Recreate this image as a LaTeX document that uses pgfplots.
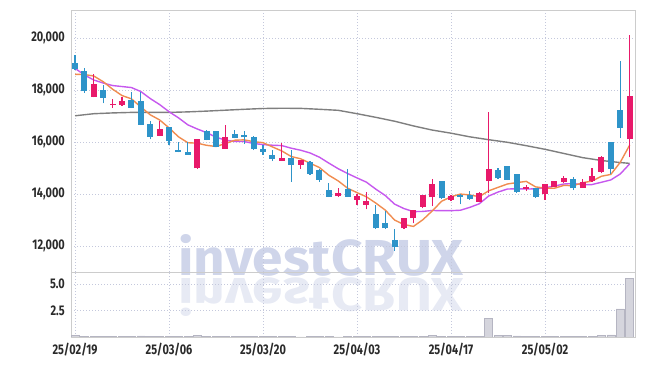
\documentclass[border=0pt]{standalone}
\usepackage{fontspec}
\setmainfont{Fira Sans}
\newfontfamily\tickfont{Fira Sans}[FakeStretch=0.78]
\newfontfamily\wmfont{Fira Sans}
\usepackage{graphicx}
\usepackage{pgfplots}
\pgfplotsset{compat=1.18}
\usepackage{pgfplotstable}

\definecolor{upc}{HTML}{E8196A}
\definecolor{dnc}{HTML}{2E94C9}
\definecolor{ma5}{HTML}{F08C50}
\definecolor{ma10}{HTML}{C658EE}
\definecolor{ma60}{HTML}{7F7F7F}
\definecolor{gridc}{HTML}{C4C8DC}
\definecolor{framec}{HTML}{CCCCCC}
\definecolor{volf}{HTML}{D5D5DD}
\definecolor{vold}{HTML}{B5B5C2}
\definecolor{wmc}{HTML}{CFD5EA}
\definecolor{wmr}{HTML}{E7EAF4}
\definecolor{tickc}{HTML}{2A2A2A}
\newcommand\ticklab{\tickfont\bfseries\fontsize{14pt}{14pt}\selectfont}

\pgfplotstableread{
i o h l c
2 17740 18600 17720 18230
4 17450 17640 17320 17480
5 17430 17740 17400 17580
9 16240 16810 16230 16490
13 14990 16120 14980 16110
16 15750 16650 15750 16180
22 15280 15950 15270 15380
24 15120 15310 14980 15300
28 13920 14250 13900 14020
30 13780 14000 13570 13930
31 13580 14080 13410 13730
35 12680 13070 12660 13060
36 13060 13390 12870 13380
37 13510 13970 13450 13960
38 13870 14560 13530 14380
40 13770 13980 13730 13930
43 13700 14060 13690 14050
44 14500 17170 14050 14950
48 14200 14340 14120 14280
50 13990 14400 13770 14380
51 14280 14500 14260 14500
52 14460 14700 14440 14610
54 14250 14560 14240 14470
55 14500 15010 14480 14690
56 14860 15460 14790 15430
59 16100 20120 15410 17770
}\uptab

\pgfplotstableread{
i o h l c
0 19050 19350 18770 18800
1 18730 18840 17900 17950
3 18000 18200 17490 17700
6 17610 17930 17300 17320
7 17580 17930 16650 16660
8 16690 16810 16100 16200
10 16560 16570 15880 16050
11 15690 15990 15600 15610
12 15610 16010 15510 15520
14 16430 16480 16060 16080
15 16430 16440 15800 15820
17 16310 16460 16140 16160
18 16270 16420 15920 16180
19 16190 16230 15690 15730
20 15750 15880 15520 15630
21 15500 15690 15270 15360
23 15380 15690 14470 15110
25 15240 15280 14750 14770
26 14920 14950 14470 14540
27 14150 14410 13880 13890
29 14210 14980 13880 13890
32 13230 13570 12670 12680
33 12890 13350 12660 12680
34 12220 12640 11800 11970
39 14510 14520 13820 13830
41 13980 14000 13600 13890
42 13980 14120 13780 13790
45 14920 15010 14580 14600
46 15070 15080 14530 14540
47 14770 14780 14050 14060
49 14220 14250 13850 13890
53 14570 14660 14150 14220
57 15990 16000 14760 14960
58 17230 19120 16140 16550
}\dntab

\pgfplotstableread{
i m5 m10
0 18604 18835
1 18597 18580
2 18539 18385
3 18320 18270
4 18032 18173
5 17788 18135
6 17662 18096
7 17348 17942
8 17048 17673
9 16850 17441
10 16544 17166
11 16202 16932
12 15974 16661
13 15956 16502
14 15874 16362
15 15828 16186
16 15942 16072
17 16070 16022
18 16084 16020
19 16014 15944
20 15976 15902
21 15812 15877
22 15656 15863
23 15442 15763
24 15356 15685
25 15184 15580
26 15020 15416
27 14722 15189
28 14504 14973
29 14222 14789
30 14054 14619
31 13892 14456
32 13650 14186
33 13382 13943
34 12998 13610
35 12824 13439
36 12754 13323
37 13010 13330
38 13350 13366
39 13722 13360
40 13896 13360
41 13998 13376
42 13964 13487
43 13898 13624
44 14122 13922
45 14256 14076
46 14386 14192
47 14440 14202
48 14486 14192
49 14274 14198
50 14230 14243
51 14222 14304
52 14332 14386
53 14320 14403
54 14436 14355
55 14498 14364
56 14684 14453
57 14754 14543
58 15220 14770
59 15880 15158
}\matab

\pgfplotstableread{
i m
0 17010
2 17090
4 17120
6 17140
8 17140
10 17140
12 17160
14 17190
16 17225
18 17260
20 17290
22 17300
24 17295
26 17260
28 17220
30 17090
32 16950
34 16800
36 16620
38 16460
40 16340
42 16200
44 16090
46 15990
48 15860
50 15720
52 15560
54 15400
56 15290
58 15210
59 15180
}\longtab

\pgfplotstableread{
i v
0 0.15
1 0.08
2 0.06
3 0.05
4 0.03
5 0.03
6 0.06
7 0.10
8 0.07
9 0.05
10 0.08
11 0.03
12 0.03
13 0.12
14 0.05
15 0.05
16 0.08
17 0.03
18 0.03
19 0.04
20 0.03
21 0.03
22 0.03
23 0.04
24 0.02
25 0.03
26 0.03
27 0.05
28 0.02
29 0.04
30 0.03
31 0.03
32 0.06
33 0.04
34 0.08
35 0.05
36 0.05
37 0.08
38 0.15
39 0.06
40 0.03
41 0.03
42 0.03
43 0.04
44 1.78
45 0.15
46 0.12
47 0.10
48 0.03
49 0.04
50 0.05
51 0.03
52 0.03
53 0.03
54 0.03
55 0.05
56 0.15
57 0.20
58 2.66
59 5.57
}\voltab

\pgfplotsset{
  common/.style={
    scale only axis,
    xmin=-0.43, xmax=59.57,
    xtick={0,10,20,30,40,50},
    grid=major,
    major grid style={draw=gridc, line width=0.6pt, dash pattern=on 0.8pt off 2.2pt},
    axis line style={draw=framec, line width=0.8pt},
    tick style={draw=none},
    ticklabel style={font=\ticklab, text=tickc},
    yticklabel style={inner sep=0pt, xshift=-6pt},
    xticklabel style={inner sep=0pt, yshift=-6pt},
    scaled y ticks=false,
    scaled x ticks=false,
  },
  candle/.style n args={2}{draw=none, mark=none, forget plot,
    error bars/.cd, y dir=plus, y explicit, error mark=none,
    error bar style={draw=#1, line width=#2, solid}},
}

\begin{document}
\begin{tikzpicture}
\useasboundingbox (0,0) rectangle (645pt,366pt);
\node[anchor=south west, inner sep=0pt, text=wmc] at (178pt,89pt)
  {\resizebox{285pt}{41pt}{\wmfont\bfseries investCRUX}};
\node[anchor=north west, inner sep=0pt, text=wmr] at (178pt,88pt)
  {\scalebox{1}[-1]{\resizebox{285pt}{38pt}{\wmfont\bfseries investCRUX}}};

\begin{axis}[common,
  at={(71pt,94pt)}, anchor=south west,
  width=564pt, height=262pt,
  ymin=11000, ymax=21080,
  xticklabels={},
  ytick={12000,14000,16000,18000,20000},
  yticklabels={{12,000},{14,000},{16,000},{18,000},{20,000}},
]
\addplot[ma60, line width=1.4pt] table[x=i,y=m]{\longtab};
\addplot[ma10, line width=1.4pt] table[x=i,y=m10]{\matab};
\addplot[ma5, line width=1.4pt] table[x=i,y=m5]{\matab};
% wicks
\addplot[candle={upc}{1.1pt}]
  table[x=i, y=l, y error expr=\thisrow{h}-\thisrow{l}]{\uptab};
\addplot[candle={dnc}{1.1pt}]
  table[x=i, y=l, y error expr=\thisrow{h}-\thisrow{l}]{\dntab};
% bodies
\addplot[candle={upc}{6pt}]
  table[x=i, y=o, y error expr=\thisrow{c}-\thisrow{o}]{\uptab};
\addplot[candle={dnc}{6pt}]
  table[x=i, y=c, y error expr=\thisrow{o}-\thisrow{c}]{\dntab};
\end{axis}

\begin{axis}[common,
  at={(71pt,29pt)}, anchor=south west,
  width=564pt, height=65pt,
  ymin=0, ymax=6.14,
  xticklabels={25/02/19,25/03/06,25/03/20,25/04/03,25/04/17,25/05/02},
  ytick={2.5,5}, yticklabels={2.5,5.0},
]
\addplot[ybar, bar width=8pt, fill=volf, draw=vold, line width=0.5pt] table[x=i,y=v]{\voltab};
\node[rotate=90, text=tickc, font=\fontsize{12pt}{12pt}\selectfont] at (axis description cs:-0.069,0.54) {$10^{6}$};
\end{axis}
\end{tikzpicture}
\end{document}
